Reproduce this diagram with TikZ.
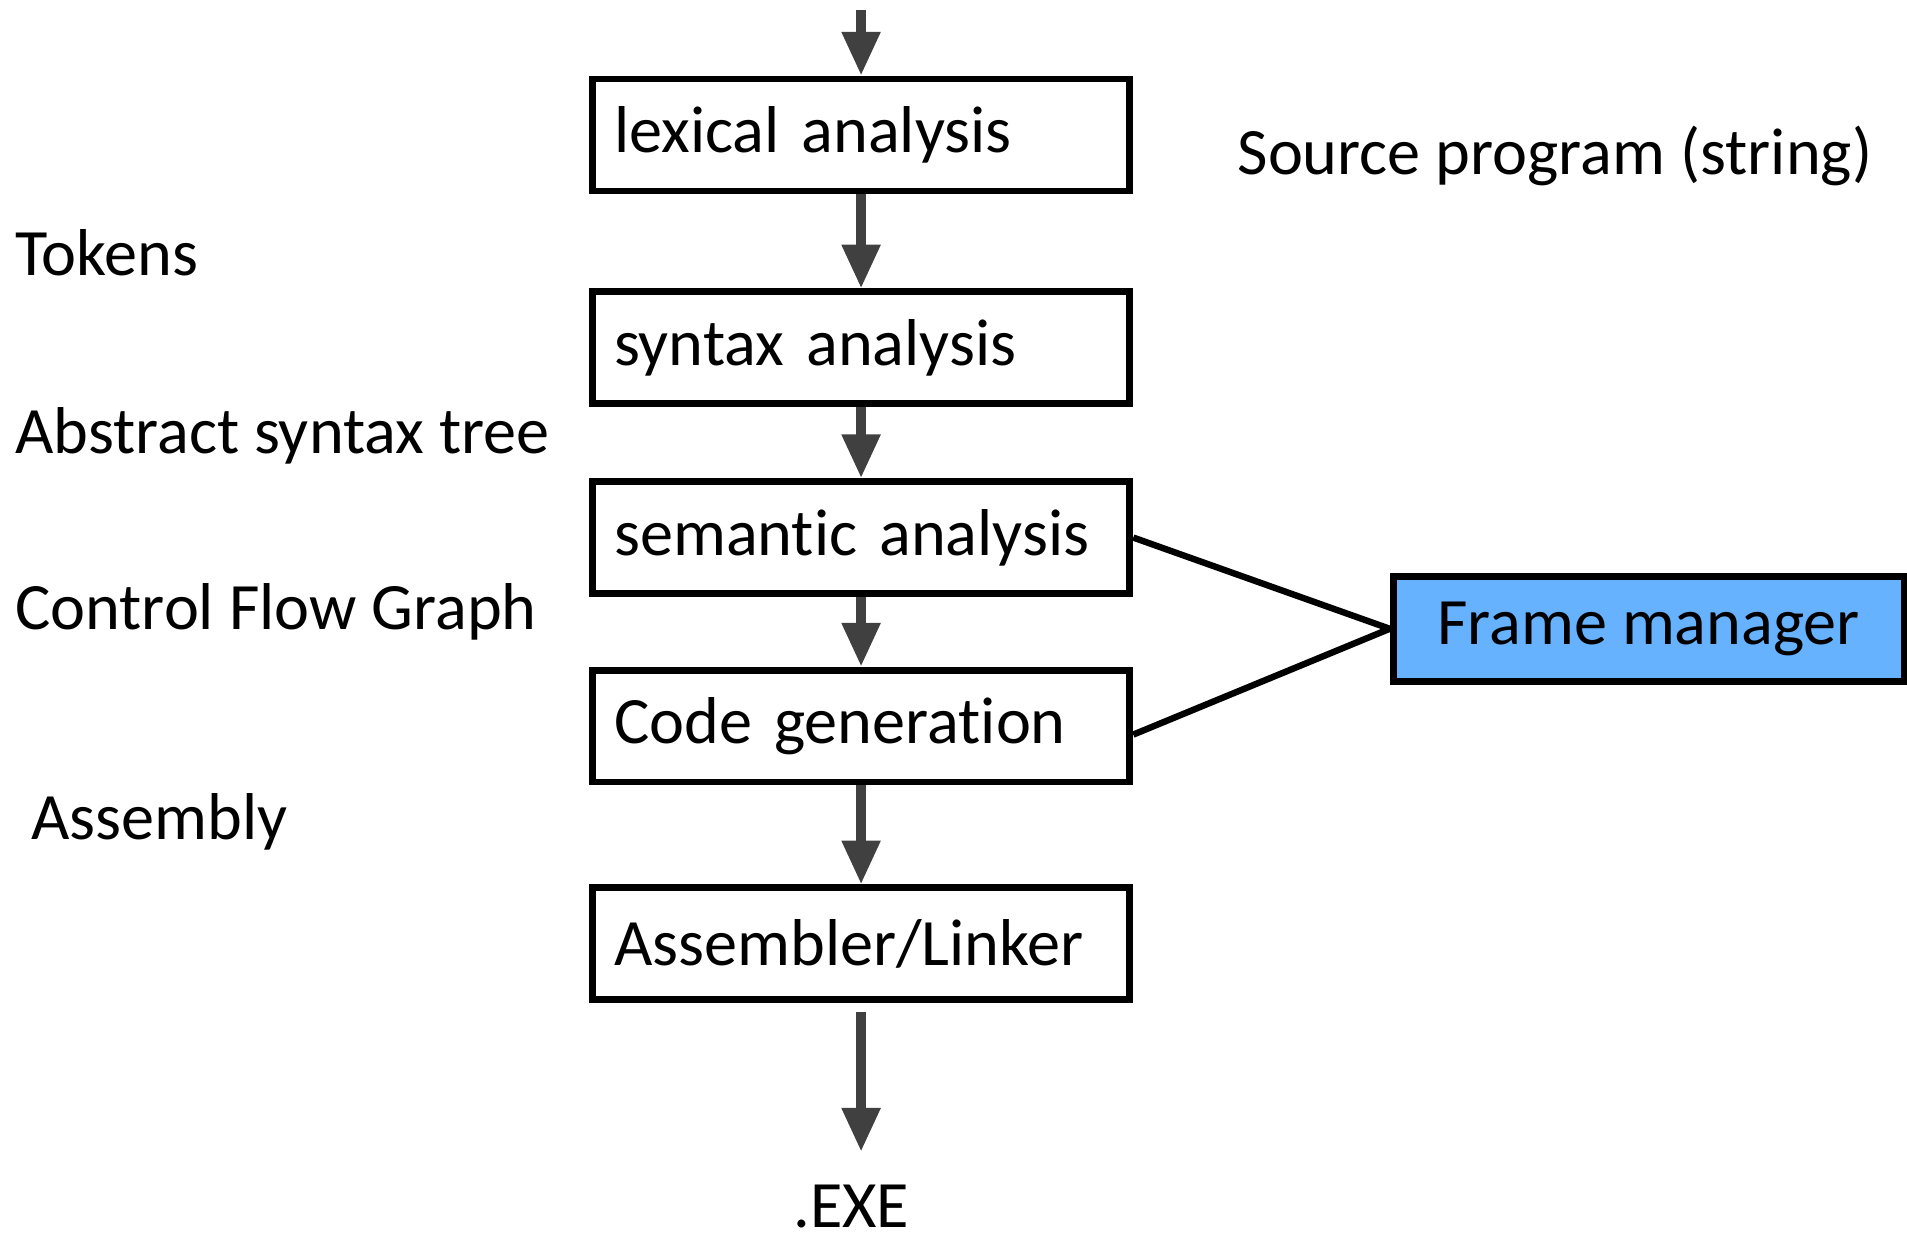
\documentclass[tikz,border=0pt]{standalone}
\usepackage{fontspec}
\setmainfont{Carlito}[Ligatures=NoCommon]
\usetikzlibrary{%
  arrows.meta,%
  positioning,%
  calc%
}

\begin{document}
\begin{tikzpicture}
[draw=black, line width=1.5pt,
font=\fontsize{15.5}{18}\selectfont,
stage/.style={rectangle, draw, line width=1.6pt, minimum width=4.42cm, minimum height=0.92cm, text width=4.06cm, inner xsep=0.18cm, align=left},
manager/.style={rectangle, draw, line width=1.6pt, fill=fmblue, minimum width=4.2cm, minimum height=0.86cm},
lbl/.style={inner sep=0pt, anchor=west},
flow/.style={draw=arrowgray, line width=2.3pt, -{Triangle[width=0.30cm,length=0.36cm]}},
link/.style={draw=black, line width=1.5pt}]

\definecolor{fmblue}{RGB}{102,178,255}
\definecolor{arrowgray}{RGB}{64,64,64}

\useasboundingbox (0,0) rectangle (15.68,-10.19);

% compiler stages
\node[stage] (lex) at (7.08,-1.11) {lexical analysis};
\node[stage] (syn) at (7.08,-2.86) {syntax analysis};
\node[stage] (sem) at (7.08,-4.42) {semantic analysis};
\node[stage] (cg) at (7.08,-5.97) {Code generation};
\node[stage] (asm) at (7.08,-7.76) {Assembler/Linker};

\node[manager] (fm) at (13.555,-5.17) {Frame manager};

% intermediate forms
\node[lbl] (src) at (10.15,-1.28) {Source program (string)};
\node[lbl] (tok) at (0.10,-2.08) {Tokens};
\node[lbl] (ast) at (0.10,-3.58) {Abstract syntax tree};
\node[lbl] (cfg) at (0.10,-5.03) {Control Flow Graph};
\node[lbl] (asmb) at (0.23,-6.76) {Assembly};
\node[inner sep=0pt, anchor=north] (exe) at (7.0,-9.72) {.EXE};

\coordinate (in) at (7.08,-0.08);

\draw[flow] (in) -- (lex.north);
\draw[flow] (lex.south) -- (syn.north);
\draw[flow] (syn.south) -- (sem.north);
\draw[flow] (sem.south) -- (cg.north);
\draw[flow] (cg.south) -- (asm.north);
\draw[flow, shorten >=0.25cm] ([yshift=-0.07cm]asm.south) -- (asm.south |- exe.north);

\draw[link] (sem.east) -- (fm.west);
\draw[link] ([yshift=-0.07cm]cg.east) -- (fm.west);

\end{tikzpicture}
\end{document}
